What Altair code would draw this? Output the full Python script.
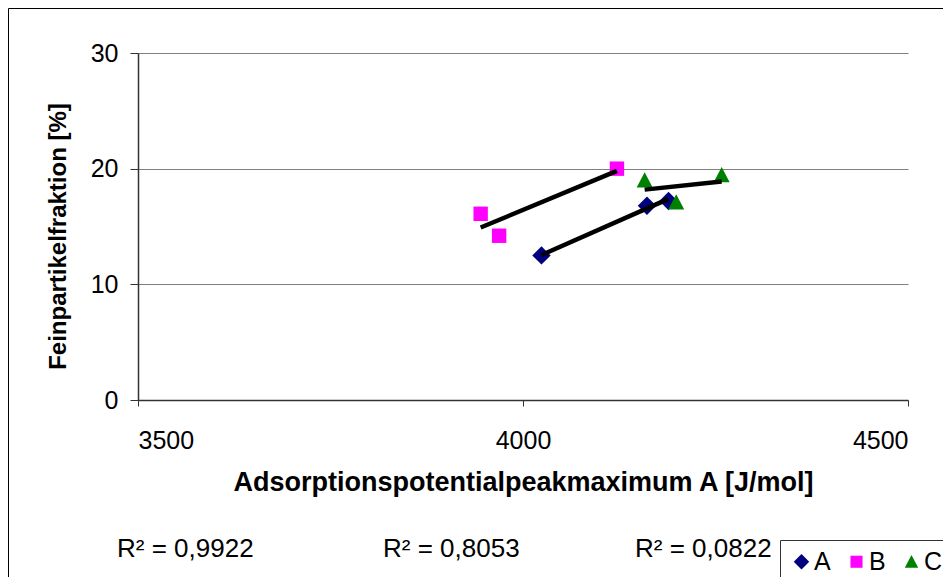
import altair as alt
import pandas as pd

# ---- data ----
series_names = ["A", "B", "C"]
a_x = [4024, 4161, 4189]
a_y = [12.5, 16.8, 17.2]
b_x = [3945, 3969, 4122]
b_y = [16.1, 14.2, 20.0]
c_x = [4158, 4199, 4258]
c_y = [19.0, 17.1, 19.45]
r2_labels = ["R\u00b2 = 0,9922", "R\u00b2 = 0,8053", "R\u00b2 = 0,0822"]
x_ticks = [3500, 4000, 4500]
y_ticks = [0, 10, 20, 30]

# ---- layout / style ----
r2_label_px = [-21, 245, 497]
colors = ["#000080", "#FF00FF", "#008000"]
shapes = [
    "M0,-1.15L1.15,0L0,1.15L-1.15,0Z",        # diamond
    "M-0.9,-0.9L0.9,-0.9L0.9,0.9L-0.9,0.9Z",  # square
    "M0,-1L1,0.9L-1,0.9Z",                    # triangle
]
FONT = "Liberation Sans"

rows = []
for name, xs, ys in [("A", a_x, a_y), ("B", b_x, b_y), ("C", c_x, c_y)]:
    for xv, yv in zip(xs, ys):
        rows.append({"series": name, "x": xv, "y": yv})
df = pd.DataFrame(rows)

xscale = alt.Scale(domain=[3500, 4500], nice=False, zero=False)
yscale = alt.Scale(domain=[0, 30], nice=False)

xaxis = alt.Axis(
    values=x_ticks, grid=False, tickSize=6, labelPadding=22, format="d",
    title="Adsorptionspotentialpeakmaximum A [J/mol]",
    titleX=385, titleY=82, titleBaseline="middle", titleAlign="center",
    titleFontSize=27,
)
yaxis = alt.Axis(
    values=y_ticks, grid=True, tickSize=8, labelPadding=12,
    title="Feinpartikelfraktion [%]",
    titleX=-80, titleY=183, titleAngle=270, titleAlign="center", titleBaseline="middle",
)

points = alt.Chart(df).mark_point(filled=True, opacity=1, strokeWidth=0, size=256).encode(
    x=alt.X("x:Q", scale=xscale, axis=xaxis),
    y=alt.Y("y:Q", scale=yscale, axis=yaxis),
    color=alt.Color(
        "series:N",
        scale=alt.Scale(domain=series_names, range=colors),
        legend=alt.Legend(
            title=None, orient="none", legendX=642, legendY=487,
            direction="horizontal", fillColor="white", strokeColor="#333333",
            padding=9, labelFontSize=25, labelFont=FONT, labelColor="black",
            symbolSize=180, columnPadding=13, labelOffset=0, symbolStrokeWidth=0,
        ),
    ),
    shape=alt.Shape("series:N", scale=alt.Scale(domain=series_names, range=shapes)),
)

lines = alt.Chart(df).transform_regression(
    "x", "y", groupby=["series"]
).mark_line(color="black", strokeWidth=4.5).encode(
    x=alt.X("x:Q", scale=xscale),
    y=alt.Y("y:Q", scale=yscale),
    detail="series:N",
)

r2_df = pd.DataFrame({"label": r2_labels, "px": r2_label_px})
r2_text = alt.Chart(r2_df).mark_text(
    align="left", baseline="middle", fontSize=26, font=FONT, color="black"
).encode(
    x=alt.X("px:Q", scale=None),
    y=alt.value(496),
    text="label:N",
)

frame_src = pd.DataFrame({"k": [0]})
frame_top = alt.Chart(frame_src).mark_rule(color="black", strokeWidth=1).encode(
    x=alt.value(-129.5), x2=alt.value(1200), y=alt.value(-44.5), y2=alt.value(-44.5)
)
frame_left = alt.Chart(frame_src).mark_rule(color="black", strokeWidth=1).encode(
    x=alt.value(-129.5), x2=alt.value(-129.5), y=alt.value(-44.5), y2=alt.value(900)
)

chart = alt.layer(frame_top, frame_left, points, lines, r2_text).properties(
    width=770, height=347,
    autosize=alt.AutoSizeParams(type="none"),
    padding={"left": 130, "top": 45, "right": 35, "bottom": 177},
    background="white",
).configure_view(stroke=None).configure_axis(
    labelFont=FONT, labelFontSize=25, labelColor="black",
    titleFont=FONT, titleFontSize=24, titleFontWeight="bold", titleColor="black",
    domainColor="#333333", tickColor="#333333", gridColor="#808080",
    domainWidth=1.5, gridWidth=1,
)

chart.save("out.html", embed_options={"renderer": "svg", "actions": False})
